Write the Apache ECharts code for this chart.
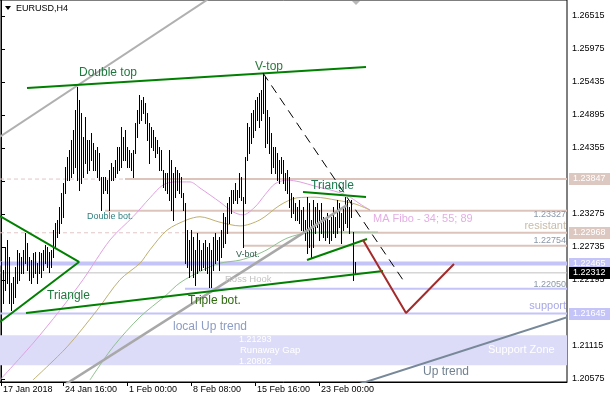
<!DOCTYPE html>
<html><head><meta charset="utf-8">
<script src="https://cdn.jsdelivr.net/npm/echarts@6/dist/echarts.min.js"></script>
<style>html,body{margin:0;padding:0;background:#fff}#c{width:610px;height:400px}</style>
</head><body><div id="c"></div>
<script>
// ---- bar data (H4 EURUSD), index = bar number ----
const barHigh = [1.2249,1.2236,1.2274,1.2285,1.2257,1.2215,1.2224,1.2241,1.2269,1.2264,
1.2257,1.2269,1.2296,1.2280,1.2257,1.2252,1.2264,1.2265,1.2247,1.2265,
1.2264,1.2269,1.2277,1.2274,1.2265,1.2269,1.2301,1.2313,1.2318,1.2339,
1.2362,1.2378,1.2404,1.2421,1.2432,1.2449,1.2465,1.2498,1.2535,1.2514,
1.2493,1.2454,1.2486,1.2449,1.2449,1.2460,1.2444,1.2432,1.2437,1.2427,
1.2388,1.2388,1.2388,1.2383,1.2400,1.2411,1.2404,1.2416,1.2437,1.2437,
1.2470,1.2454,1.2465,1.2437,1.2432,1.2427,1.2432,1.2476,1.2498,1.2522,
1.2514,1.2519,1.2509,1.2493,1.2476,1.2470,1.2465,1.2454,1.2449,1.2437,
1.2432,1.2400,1.2395,1.2395,1.2432,1.2416,1.2395,1.2404,1.2400,1.2395,
1.2388,1.2362,1.2346,1.2301,1.2285,1.2301,1.2290,1.2269,1.2296,1.2285,
1.2269,1.2280,1.2285,1.2274,1.2280,1.2269,1.2290,1.2296,1.2285,1.2290,
1.2301,1.2329,1.2323,1.2346,1.2355,1.2367,1.2367,1.2378,1.2367,1.2395,
1.2388,1.2355,1.2421,1.2476,1.2470,1.2493,1.2498,1.2514,1.2519,1.2526,
1.2530,1.2558,1.2552,1.2498,1.2486,1.2460,1.2437,1.2437,1.2427,1.2416,
1.2421,1.2416,1.2395,1.2400,1.2388,1.2362,1.2355,1.2346,1.2339,1.2350,
1.2334,1.2339,1.2318,1.2355,1.2346,1.2318,1.2350,1.2339,1.2346,1.2334,
1.2346,1.2323,1.2318,1.2329,1.2318,1.2323,1.2339,1.2323,1.2350,1.2346,
1.2329,1.2339,1.2355,1.2350,1.2339,1.2350,1.2298,1.2249];
const barLow = [1.2198,1.2182,1.2203,1.2215,1.2182,1.2170,1.2182,1.2192,1.2215,1.2220,
1.2231,1.2231,1.2247,1.2236,1.2220,1.2215,1.2224,1.2231,1.2215,1.2231,
1.2224,1.2236,1.2247,1.2241,1.2233,1.2241,1.2257,1.2274,1.2290,1.2296,
1.2313,1.2323,1.2362,1.2383,1.2383,1.2388,1.2395,1.2404,1.2383,1.2367,
1.2378,1.2388,1.2411,1.2395,1.2400,1.2416,1.2400,1.2400,1.2388,1.2383,
1.2334,1.2362,1.2367,1.2362,1.2334,1.2383,1.2383,1.2388,1.2395,1.2400,
1.2404,1.2416,1.2416,1.2404,1.2404,1.2400,1.2388,1.2427,1.2454,1.2476,
1.2481,1.2493,1.2476,1.2449,1.2411,1.2437,1.2432,1.2421,1.2427,1.2400,
1.2400,1.2372,1.2367,1.2362,1.2350,1.2334,1.2318,1.2355,1.2367,1.2362,
1.2355,1.2334,1.2247,1.2241,1.2224,1.2236,1.2224,1.2211,1.2231,1.2236,
1.2236,1.2241,1.2236,1.2231,1.2208,1.2208,1.2236,1.2247,1.2252,1.2236,
1.2257,1.2274,1.2280,1.2296,1.2313,1.2329,1.2346,1.2350,1.2346,1.2355,
1.2350,1.2274,1.2346,1.2416,1.2427,1.2444,1.2454,1.2465,1.2481,1.2470,
1.2481,1.2493,1.2437,1.2444,1.2427,1.2395,1.2404,1.2395,1.2383,1.2378,
1.2395,1.2378,1.2367,1.2362,1.2339,1.2323,1.2329,1.2318,1.2318,1.2313,
1.2301,1.2296,1.2285,1.2264,1.2274,1.2257,1.2274,1.2296,1.2306,1.2285,
1.2296,1.2290,1.2285,1.2290,1.2280,1.2285,1.2296,1.2290,1.2296,1.2306,
1.2280,1.2301,1.2313,1.2306,1.2296,1.2323,1.2220,1.2231];

// ---- moving averages [bar index, price] ----
const ma34 = [[-0.5,1.2056],[16,1.2116],[29.5,1.2170],[41,1.2220],[54.5,1.2285],[66,1.2323],[74.5,1.2354],[81,1.2375],[87,1.2380],[94.5,1.2380],[99.5,1.2370],[109.5,1.2347],[116,1.2331],[121,1.2326],[127,1.2339],[132,1.2359],[137,1.2377],[143,1.2383],[149.5,1.2380],[157,1.2373],[164.5,1.2367],[173,1.2358],[179.5,1.2344],[184.5,1.2334]];
const ma55 = [[16,1.2056],[33,1.2110],[48,1.2170],[59.5,1.2220],[69.5,1.2247],[74.5,1.2269],[83,1.2301],[93,1.2318],[99.5,1.2323],[109.5,1.2314],[119.5,1.2308],[129.5,1.2318],[139.5,1.2342],[148,1.2354],[157,1.2355],[168,1.2350],[177,1.2344],[184.5,1.2334]];
const ma89 = [[44.5,1.2056],[56,1.2110],[69.5,1.2159],[82,1.2193],[89.5,1.2215],[101,1.2236],[109.5,1.2247],[119.5,1.2252],[127,1.2260],[133,1.2269],[143,1.2288],[154.5,1.2297],[169.5,1.2298],[188.5,1.2298]];

// ---- drawn analysis objects [bar index, price] ----
const channelUpper = [[-0.5,1.2454],[110,1.2693]];
const channelLower = [[23.7,1.2031],[173,1.2342]];
const doubleTopLine = [[13,1.25337],[182.5,1.25681]];
const leftTriangle = [[-0.5,1.23242],[39,1.22490],[-0.5,1.21508]];
const tripleBotLine = [[12.5,1.21655],[191,1.22342]];
const triangleUpper = [[151,1.23635],[182.5,1.23553]];
const triangleLower = [[153,1.22523],[183,1.22866]];
const vTopDashed = [[131,1.25582],[201,1.22196]];
const projection = [[181,1.22850],[202.5,1.21655],[226.5,1.22457]];
const upTrend = [[174.5,1.20444],[283.5,1.21590]];
const bidPrice = 1.22312;
const zoneTop = 1.21293, zoneBottom = 1.20802;

// horizontal levels: price, start bar index
const levelRose = [[1.23847,62],[1.23327,52],[1.22968,95.5],[1.22754,121]];
const levelRoseDashed = [[1.23847,62],[1.22968,95.5]];
const levelBlue = [[1.22465,-0.5,4],[1.22050,92,2],[1.21645,-0.5,2]];

// ---- axis ticks ----
const xTickPos = [0,31,63,95,127,159];
const xTickLabels = ['17 Jan 2018','24 Jan 16:00','1 Feb 00:00','8 Feb 08:00','15 Feb 16:00','23 Feb 00:00'];
const yTicks = [1.20575,1.21115,1.21655,1.22195,1.22735,1.23275,1.23815,1.24355,1.24895,1.25435,1.25975,1.26515];

const priceTags = [[1.23847,'#dcc8c0'],[1.22968,'#dcc8c0'],[1.22465,'#c4c4f8'],[1.22312,'#000000'],[1.21645,'#c4c4f8']];

const FONT = "'Liberation Sans', Arial, sans-serif";
const XMAX = 283;

function lineS(data, color, width, type, z, smooth){
  return {type:'line', data:data, symbol:'none', showSymbol:false, silent:true, animation:false,
    smooth: smooth||false, z: z||3, clip:true,
    lineStyle:{color:color, width:width, type:type||'solid'}};
}

const series = [];
series.push({type:'line', data:[], silent:true, animation:false, z:1,
  markArea:{silent:true, itemStyle:{color:'#dcdcf8'}, data:[[{yAxis:zoneTop},{yAxis:zoneBottom}]]}});
levelRoseDashed.forEach(l=>series.push(lineS([[-0.5,l[0]],[l[1],l[0]]],'#e2c6c6',1,[4,3],2)));
levelRose.forEach(l=>series.push(lineS([[l[1],l[0]],[XMAX,l[0]]],'#dcc4bc',2,'solid',2)));
levelBlue.forEach(l=>series.push(lineS([[l[1],l[0]],[XMAX,l[0]]],'#c4c4f8',l[2],'solid',2)));
series.push(lineS([[-0.5,bidPrice],[XMAX,bidPrice]],'#c0c0c0',1,'solid',2));
series.push(lineS(ma34,'#e0a0e0',1,'solid',3,0.3));
series.push(lineS(ma55,'#c0b070',1,'solid',3,0.3));
series.push(lineS(ma89,'#90c090',1,'solid',3,0.3));
series.push({type:'custom', silent:true, animation:false, z:4, clip:true,
  encode:{x:0, y:[1,2]},
  data: barHigh.map((h,i)=>[i,h,barLow[i]]),
  renderItem:function(params, api){
    const a = api.coord([api.value(0), api.value(1)]);
    const b = api.coord([api.value(0), api.value(2)]);
    const x = Math.round(a[0]) + 0.5;
    return {type:'line', shape:{x1:x, y1:Math.round(a[1]), x2:x, y2:Math.round(b[1])+1},
      style:{stroke:'#000', lineWidth:1}};
  }});
series.push(lineS(channelUpper,'#b0b0b0',2,'solid',5));
series.push(lineS(channelLower,'#a8a8a8',2.5,'solid',5));
series.push(lineS(doubleTopLine,'#008000',2,'solid',6));
series.push(lineS(leftTriangle,'#008000',2,'solid',6));
series.push(lineS(tripleBotLine,'#008000',2,'solid',6));
series.push(lineS(triangleUpper,'#008000',2,'solid',6));
series.push(lineS(triangleLower,'#008000',2,'solid',6));
series.push(lineS(vTopDashed,'#000000',1,[9,6],6));
series.push(lineS(projection,'#a52a2a',2,'solid',6));
series.push(lineS(upTrend,'#778899',2,'solid',6));

const chart = echarts.init(document.getElementById('c'), null, {renderer:'canvas'});
chart.setOption({
  animation:false,
  backgroundColor:'#fff',
  grid:{left:0, top:0, right:43, bottom:18, show:true, borderColor:'#000', borderWidth:1, backgroundColor:'#fff'},
  xAxis:{type:'value', min:-0.5, max:XMAX, splitLine:{show:false},
    axisLine:{show:true, lineStyle:{color:'#000'}},
    axisTick:{show:true, customValues:xTickPos, length:4, lineStyle:{color:'#000'}},
    axisLabel:{customValues:xTickPos, align:'left', margin:3, padding:[0,0,0,2],
      fontFamily:FONT, fontSize:9, color:'#000',
      formatter:function(v){ const k = xTickPos.indexOf(v); return k>=0? xTickLabels[k] : ''; }}},
  yAxis:{type:'value', position:'right', min:1.20526, max:1.26777, splitLine:{show:false}, scale:true,
    axisLine:{show:true, lineStyle:{color:'#000'}},
    axisTick:{show:true, customValues:yTicks, length:4, lineStyle:{color:'#000'}},
    axisLabel:{customValues:yTicks, margin:5, fontFamily:FONT, fontSize:9, color:'#000',
      formatter:function(v){return v.toFixed(5);}}},
  series:series
});

const notes = [
 ['EURUSD,H4',16,8.5,9,'#000','left'],
 ['Double top',79,73,12,'#1d7a3c','left'],
 ['V-top',255,67,12,'#2a7a3a','left'],
 ['Double bot.',87,217,9,'#2f8080','left'],
 ['Triangle',311,185.5,12,'#1d7a50','left'],
 ['MA Fibo - 34; 55; 89',373,219,11,'#e4aee4','left'],
 ['1.23327',566,214.5,9,'#8a98a8','right'],
 ['resistant',566,226,11,'#c8bca8','right'],
 ['1.22754',566,241,9,'#8a98a8','right'],
 ['V-bot.',236,255,9,'#2f5f4f','left'],
 ['Ross Hook',225,279,9.5,'#c4c4c4','left'],
 ['Triangle',47,296,12,'#1d7a3c','left'],
 ['Triple bot.',188,301,12,'#2f6a10','left'],
 ['1.22050',566,284.5,9,'#8a98a8','right'],
 ['support',566,306,11,'#a8a8e8','right'],
 ['local Up trend',173,327,12,'#8c9cc4','left'],
 ['1.21293',239,340,9,'#ffffff','left'],
 ['Runaway Gap',240,350.5,9.5,'#ffffff','left'],
 ['1.20802',239,361.5,9,'#ffffff','left'],
 ['Support Zone',488,349.5,11,'#ffffff','left'],
 ['Up trend',423,372,12,'#708090','left']
];
const g = [];
notes.forEach(n=>g.push({type:'text', z:50, silent:true,
  style:{text:n[0], x:n[1], y:n[2], fill:n[4], font:n[3]+'px '+FONT, align:n[5], verticalAlign:'middle'}}));
g.push({type:'polygon', z:50, silent:true, shape:{points:[[5,6],[11,6],[8,10]]}, style:{fill:'#000'}});
g.push({type:'polygon', z:50, silent:true, shape:{points:[[352,1],[360,1],[356,5]]}, style:{fill:'#b8b8b8'}});
priceTags.forEach(t=>{
  const y = Math.round(chart.convertToPixel({yAxisIndex:0}, t[0]));
  g.push({type:'rect', z:60, silent:true, shape:{x:569, y:y-6, width:41, height:12}, style:{fill:t[1]}});
  g.push({type:'text', z:61, silent:true, style:{text:t[0].toFixed(5), x:573, y:y, fill:'#fff', font:'9px '+FONT, align:'left', verticalAlign:'middle'}});
});
chart.setOption({graphic:g});
</script></body></html>
